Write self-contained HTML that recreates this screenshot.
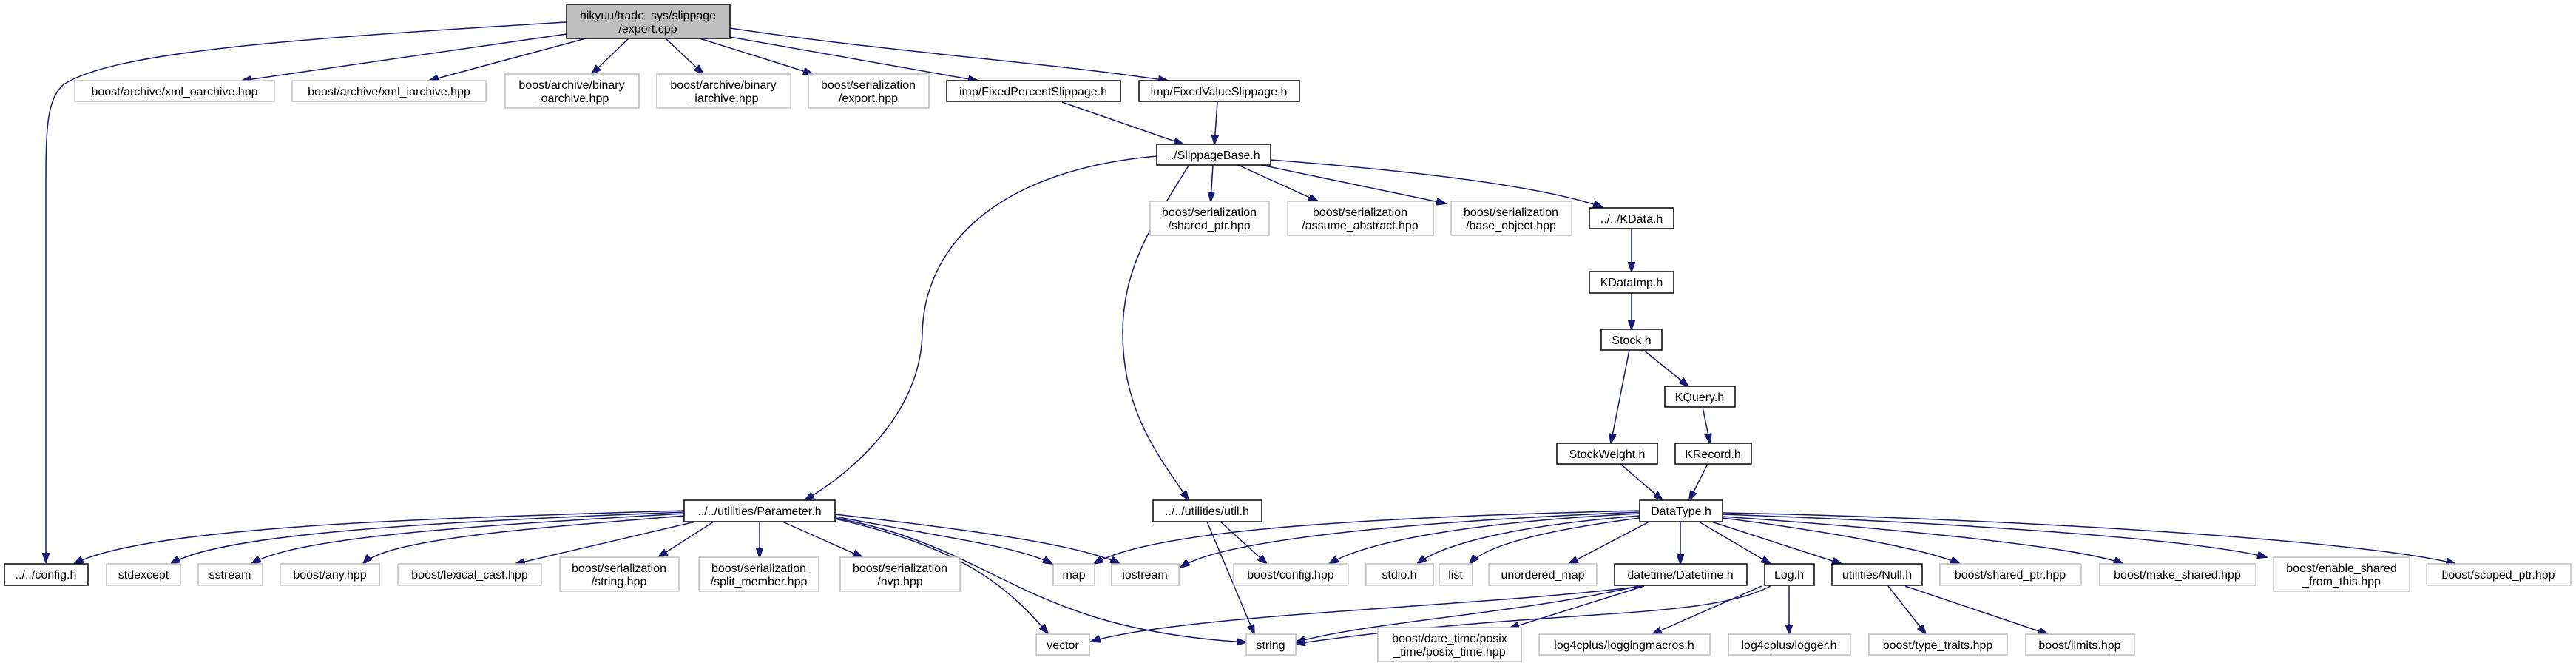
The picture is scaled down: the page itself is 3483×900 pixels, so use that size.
<!DOCTYPE html>
<html><head><meta charset="utf-8"><style>
html,body{margin:0;padding:0;background:#fff;}
svg{display:block;}
text{font-family:"Liberation Sans",sans-serif;font-size:16px;fill:#000;text-anchor:middle;}
.e{fill:#fff;stroke:#bfbfbf;stroke-width:1.5}
.i{fill:#fff;stroke:#000;stroke-width:1.5}
.r{fill:#bfbfbf;stroke:#000;stroke-width:1.5}
path{fill:none;stroke:#191970;stroke-width:1.5;marker-end:url(#a)}
</style></head><body>
<svg width="3483" height="900" viewBox="0 0 3483 900" xmlns="http://www.w3.org/2000/svg">
<defs><marker id="a" markerUnits="userSpaceOnUse" markerWidth="14" markerHeight="10" refX="13" refY="5" orient="auto"><polygon points="0,0 14,5 0,10" fill="#191970" stroke="#191970"/></marker></defs>
<path d="M766,30 C400,52 150,70 85,115 C64,135 62,170 62,250 L62,760"/>
<path d="M766,46 L327,109"/>
<path d="M792,52 L580,109"/>
<path d="M850,52 L800,100"/>
<path d="M900,52 L951,100"/>
<path d="M946,52 L1099,100"/>
<path d="M987,50 L1322,109"/>
<path d="M987,38 C1200,70 1420,85 1579,109"/>
<path d="M1436,138 L1600,195"/>
<path d="M1646,138 L1642,195"/>
<path d="M1640,223 L1637,272"/>
<path d="M1674,223 L1782,272"/>
<path d="M1705,223 L1955,275"/>
<path d="M1718,216 C1900,230 2080,250 2167,280"/>
<path d="M1564,211 C1350,230 1250,330 1247,450 C1245,560 1150,640 1088,676"/>
<path d="M1607,224 C1560,300 1518,360 1518,450 C1518,560 1570,620 1607,676"/>
<path d="M2206,309 L2206,367"/>
<path d="M2206,396 L2206,445"/>
<path d="M2222,473 L2283,522"/>
<path d="M2203,473 L2178,599"/>
<path d="M2302,550 L2312,599"/>
<path d="M2191,627 L2248,676"/>
<path d="M2309,627 L2284,676"/>
<path d="M925,690 C600,700 200,710 100,762"/>
<path d="M925,692 C600,705 300,720 231,762"/>
<path d="M925,694 C650,710 400,725 340,762"/>
<path d="M925,697 C700,715 520,730 491,762"/>
<path d="M940,705 L697,762"/>
<path d="M965,705 L890,753"/>
<path d="M1027,705 L1027,753"/>
<path d="M1058,705 L1166,753"/>
<path d="M1129,698 C1300,730 1380,740 1423,762"/>
<path d="M1129,695 C1350,720 1470,740 1514,762"/>
<path d="M1129,701 C1300,740 1360,790 1417,856"/>
<path d="M1129,700 C1350,740 1380,850 1685,868"/>
<path d="M1650,705 L1713,762"/>
<path d="M1632,705 L1696,857"/>
<path d="M2217,690 C1800,700 1550,720 1479,762"/>
<path d="M2217,692 C1900,705 1650,730 1596,767"/>
<path d="M2217,694 C2000,705 1850,730 1797,762"/>
<path d="M2217,697 C2050,710 1950,735 1916,762"/>
<path d="M2217,700 C2100,715 2010,735 1987,762"/>
<path d="M2230,705 L2121,762"/>
<path d="M2272,705 L2272,762"/>
<path d="M2297,705 L2394,762"/>
<path d="M2314,705 L2490,762"/>
<path d="M2329,700 C2450,715 2600,740 2650,762"/>
<path d="M2329,698 C2500,710 2800,735 2871,762"/>
<path d="M2329,695 C2600,705 2950,725 3065,753"/>
<path d="M2329,693 C2700,700 3200,730 3320,762"/>
<path d="M2223,792 C2000,820 1600,830 1475,867"/>
<path d="M2215,792 C2050,830 1850,840 1752,868"/>
<path d="M2223,792 L2041,849"/>
<path d="M2394,792 C2300,840 2100,820 1752,870"/>
<path d="M2382,792 L2234,857"/>
<path d="M2419,792 L2419,857"/>
<path d="M2553,792 L2604,857"/>
<path d="M2576,792 L2769,857"/>
<rect class="r" x="766" y="6" width="221" height="46"/><text x="876" y="26">hikyuu/trade_sys/slippage</text><text x="876" y="44">/export.cpp</text>
<rect class="e" x="101" y="109" width="270" height="28"/><text x="236" y="129">boost/archive/xml_oarchive.hpp</text>
<rect class="e" x="395" y="109" width="262" height="28"/><text x="526" y="129">boost/archive/xml_iarchive.hpp</text>
<rect class="e" x="683" y="100" width="181" height="46"/><text x="773" y="120">boost/archive/binary</text><text x="773" y="138">_oarchive.hpp</text>
<rect class="e" x="888" y="100" width="181" height="46"/><text x="978" y="120">boost/archive/binary</text><text x="978" y="138">_iarchive.hpp</text>
<rect class="e" x="1093" y="100" width="163" height="46"/><text x="1174" y="120">boost/serialization</text><text x="1174" y="138">/export.hpp</text>
<rect class="i" x="1280" y="109" width="235" height="28"/><text x="1397" y="129">imp/FixedPercentSlippage.h</text>
<rect class="i" x="1540" y="109" width="217" height="28"/><text x="1648" y="129">imp/FixedValueSlippage.h</text>
<rect class="i" x="1564" y="195" width="154" height="28"/><text x="1641" y="215">../SlippageBase.h</text>
<rect class="e" x="1555" y="272" width="161" height="46"/><text x="1635" y="292">boost/serialization</text><text x="1635" y="310">/shared_ptr.hpp</text>
<rect class="e" x="1741" y="272" width="197" height="46"/><text x="1839" y="292">boost/serialization</text><text x="1839" y="310">/assume_abstract.hpp</text>
<rect class="e" x="1962" y="272" width="163" height="46"/><text x="2043" y="292">boost/serialization</text><text x="2043" y="310">/base_object.hpp</text>
<rect class="i" x="2149" y="281" width="114" height="28"/><text x="2206" y="301">../../KData.h</text>
<rect class="i" x="2149" y="367" width="114" height="29"/><text x="2206" y="387">KDataImp.h</text>
<rect class="i" x="2165" y="445" width="82" height="28"/><text x="2206" y="465">Stock.h</text>
<rect class="i" x="2251" y="522" width="95" height="28"/><text x="2298" y="542">KQuery.h</text>
<rect class="i" x="2105" y="599" width="136" height="28"/><text x="2173" y="619">StockWeight.h</text>
<rect class="i" x="2265" y="599" width="103" height="28"/><text x="2316" y="619">KRecord.h</text>
<rect class="i" x="2217" y="676" width="112" height="29"/><text x="2273" y="696">DataType.h</text>
<rect class="i" x="925" y="676" width="204" height="29"/><text x="1027" y="696">../../utilities/Parameter.h</text>
<rect class="i" x="1559" y="676" width="147" height="29"/><text x="1632" y="696">../../utilities/util.h</text>
<rect class="i" x="6" y="762" width="113" height="29"/><text x="62" y="782">../../config.h</text>
<rect class="e" x="144" y="762" width="100" height="29"/><text x="194" y="782">stdexcept</text>
<rect class="e" x="268" y="762" width="87" height="29"/><text x="311" y="782">sstream</text>
<rect class="e" x="379" y="762" width="134" height="29"/><text x="446" y="782">boost/any.hpp</text>
<rect class="e" x="538" y="762" width="194" height="29"/><text x="635" y="782">boost/lexical_cast.hpp</text>
<rect class="e" x="757" y="753" width="161" height="46"/><text x="837" y="773">boost/serialization</text><text x="837" y="791">/string.hpp</text>
<rect class="e" x="945" y="753" width="162" height="46"/><text x="1026" y="773">boost/serialization</text><text x="1026" y="791">/split_member.hpp</text>
<rect class="e" x="1136" y="753" width="162" height="46"/><text x="1217" y="773">boost/serialization</text><text x="1217" y="791">/nvp.hpp</text>
<rect class="e" x="1424" y="762" width="56" height="29"/><text x="1452" y="782">map</text>
<rect class="e" x="1503" y="762" width="91" height="29"/><text x="1548" y="782">iostream</text>
<rect class="e" x="1668" y="762" width="155" height="29"/><text x="1745" y="782">boost/config.hpp</text>
<rect class="e" x="1847" y="762" width="91" height="29"/><text x="1892" y="782">stdio.h</text>
<rect class="e" x="1946" y="762" width="45" height="29"/><text x="1968" y="782">list</text>
<rect class="e" x="2013" y="762" width="146" height="29"/><text x="2086" y="782">unordered_map</text>
<rect class="i" x="2183" y="762" width="179" height="29"/><text x="2272" y="782">datetime/Datetime.h</text>
<rect class="i" x="2386" y="762" width="67" height="29"/><text x="2419" y="782">Log.h</text>
<rect class="i" x="2477" y="762" width="122" height="29"/><text x="2538" y="782">utilities/Null.h</text>
<rect class="e" x="2623" y="762" width="191" height="29"/><text x="2718" y="782">boost/shared_ptr.hpp</text>
<rect class="e" x="2839" y="762" width="211" height="29"/><text x="2944" y="782">boost/make_shared.hpp</text>
<rect class="e" x="3074" y="753" width="184" height="46"/><text x="3166" y="773">boost/enable_shared</text><text x="3166" y="791">_from_this.hpp</text>
<rect class="e" x="3281" y="762" width="195" height="29"/><text x="3378" y="782">boost/scoped_ptr.hpp</text>
<rect class="e" x="1401" y="857" width="72" height="28"/><text x="1437" y="877">vector</text>
<rect class="e" x="1685" y="857" width="67" height="28"/><text x="1718" y="877">string</text>
<rect class="e" x="1863" y="848" width="194" height="46"/><text x="1960" y="868">boost/date_time/posix</text><text x="1960" y="886">_time/posix_time.hpp</text>
<rect class="e" x="2081" y="857" width="231" height="28"/><text x="2196" y="877">log4cplus/loggingmacros.h</text>
<rect class="e" x="2337" y="857" width="165" height="28"/><text x="2419" y="877">log4cplus/logger.h</text>
<rect class="e" x="2527" y="857" width="187" height="28"/><text x="2620" y="877">boost/type_traits.hpp</text>
<rect class="e" x="2739" y="857" width="147" height="28"/><text x="2812" y="877">boost/limits.hpp</text>
</svg>
</body></html>
